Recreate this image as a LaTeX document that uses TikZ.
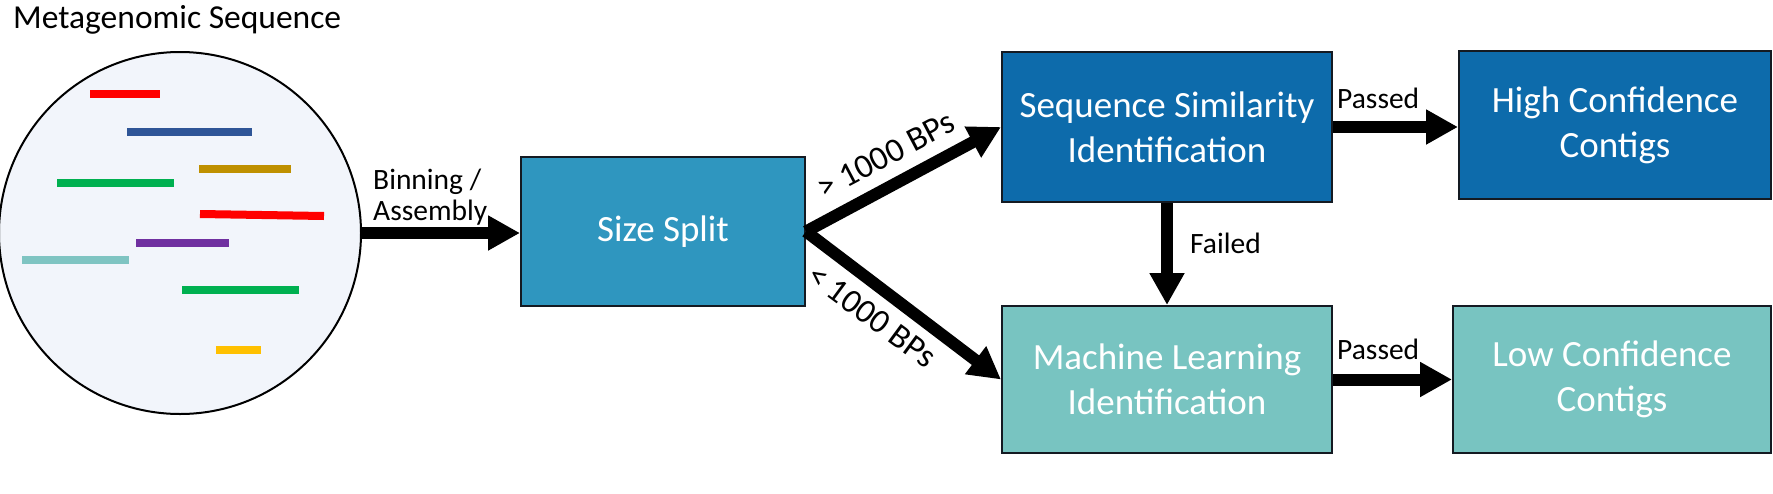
\documentclass[tikz,border=0pt]{standalone}
\usepackage{fontspec}
\setmainfont{Carlito}
\usetikzlibrary{arrows.meta}
\definecolor{splitblue}{HTML}{2F96BF}
\definecolor{darkblue}{HTML}{0D6BAB}
\definecolor{lightteal}{HTML}{78C4C1}
\definecolor{boxline}{HTML}{141A22}
\definecolor{poolfill}{HTML}{F2F5FB}
\definecolor{segred}{HTML}{FF0000}
\definecolor{segblue}{HTML}{2F5597}
\definecolor{seggold}{HTML}{BF9000}
\definecolor{seggreen}{HTML}{00B050}
\definecolor{segpurple}{HTML}{7030A0}
\definecolor{segteal}{HTML}{7FC4C2}
\definecolor{segyellow}{HTML}{FFC000}
\tikzset{
  stagebox/.style={draw=boxline, line width=2pt, inner sep=0pt, align=center,
    text=white, font=\fontsize{37}{45}\selectfont},
  flowarrow/.style={line width=12pt, -{Triangle[length=32pt,width=33pt]}},
  lbl/.style={font=\fontsize{29.5}{31}\selectfont, inner sep=0pt},
  slantlbl/.style={font=\fontsize{34}{36}\selectfont, inner sep=0pt},
  seg/.style={line width=8pt},
}
\begin{document}
\begin{tikzpicture}[x=1pt,y=-1pt]
\useasboundingbox[fill=white] (0,0) rectangle (1773,493);

% title
\node[anchor=base west, inner sep=0pt, font=\fontsize{33.5}{40}\selectfont] (title) at (13,28) {Metagenomic Sequence};

% sample pool
\node[draw=black, line width=2pt, fill=poolfill, circle, minimum size=362pt, inner sep=0pt] (pool) at (180,233) {};
\draw[seg, segred]    (90,94)   -- (160,94);
\draw[seg, segblue]   (127,132) -- (252,132);
\draw[seg, seggold]   (199,169) -- (291,169);
\draw[seg, seggreen]  (57,183)  -- (174,183);
\draw[seg, segred]    (200,214) -- (324,216);
\draw[seg, segpurple] (136,243) -- (229,243);
\draw[seg, segteal]   (22,260)  -- (129,260);
\draw[seg, seggreen]  (182,290) -- (299,290);
\draw[seg, segyellow] (216,350) -- (261,350);

% boxes
\node[stagebox, fill=splitblue, minimum width=284pt, minimum height=149pt] (size) at (663,231.5) {Size Split};
\node[stagebox, fill=darkblue, minimum width=330pt, minimum height=150pt] (sim) at (1167,127) {Sequence Similarity\\Identification};
\node[stagebox, fill=darkblue, minimum width=312pt, minimum height=148pt] (high) at (1615,125) {High Confidence\\Contigs};
\node[stagebox, fill=lightteal, minimum width=330pt, minimum height=147pt] (ml) at (1167,379.5) {Machine Learning\\Identification};
\node[stagebox, fill=lightteal, minimum width=318pt, minimum height=147pt] (low) at (1612,379.5) {Low Confidence\\Contigs};

% connectors
\draw[flowarrow] (pool.east) -- (pool.east -| size.west);
\draw[flowarrow] (size.east) -- (sim.west);
\draw[flowarrow] (size.east) -- (ml.west);
\draw[flowarrow] (sim.south) -- (ml.north);
\draw[flowarrow] (sim.east) -- (sim.east -| high.west);
\draw[flowarrow] (ml.east) -- (ml.east -| low.west);

% connector labels
\node[lbl, anchor=west, align=left] (binlbl) at (373,197) {Binning /\\Assembly};
\node[slantlbl, rotate=27.8] (gtlbl) at (886,155) {> 1000 BPs};
\node[slantlbl, rotate=-36.4] (ltlbl) at (872,316) {< 1000 BPs};
\node[lbl, anchor=base west] (failedlbl) at (1190,253) {Failed};
\node[lbl, anchor=base west] (passhigh) at (1337,108) {Passed};
\node[lbl, anchor=base west] (passlow) at (1337,359) {Passed};
\end{tikzpicture}
\end{document}
